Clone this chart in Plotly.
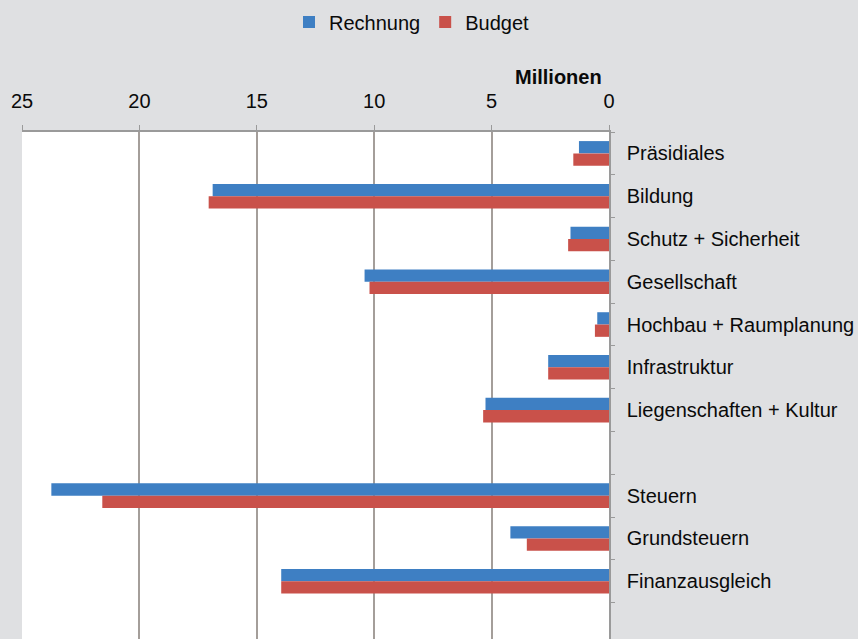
import plotly.graph_objects as go

categories = ["Präsidiales", "Bildung", "Schutz + Sicherheit", "Gesellschaft",
              "Hochbau + Raumplanung", "Infrastruktur", "Liegenschaften + Kultur",
              " ", "Steuern", "Grundsteuern", "Finanzausgleich", "  "]
rechnung = [1.28, 16.88, 1.64, 10.41, 0.50, 2.59, 5.26, None, 23.75, 4.20, 13.96, None]
budget = [1.52, 17.05, 1.74, 10.20, 0.60, 2.59, 5.36, None, 21.58, 3.50, 13.96, None]
x_ticks = [0, 5, 10, 15, 20, 25]

FONT = "Liberation Sans, Arial, sans-serif"
BLUE = "#3e7fc3"
RED = "#c9514a"

fig = go.Figure()
fig.add_trace(go.Bar(y=categories, x=rechnung, name="Rechnung", orientation="h",
                     marker=dict(color=BLUE, line=dict(width=0))))
fig.add_trace(go.Bar(y=categories, x=budget, name="Budget", orientation="h",
                     marker=dict(color=RED, line=dict(width=0))))

fig.update_layout(
    width=858, height=639,
    margin=dict(l=22, r=249, t=132, b=0, pad=0),
    paper_bgcolor="#dfe0e2",
    plot_bgcolor="#ffffff",
    barmode="group",
    bargap=0.425,
    bargroupgap=0,
    font=dict(family=FONT, size=20, color="#0a0a0a"),
    legend=dict(orientation="h", xref="container", yref="container",
                x=412/858, xanchor="center", y=1-22/639, yanchor="middle",
                font=dict(size=20), itemwidth=30, bgcolor="rgba(0,0,0,0)"),
    xaxis=dict(side="top", range=[25, 0], tickvals=x_ticks,
               showgrid=True, gridcolor="#a49e9a", gridwidth=1.5,
               zeroline=False, showline=True, linecolor="#9a9a9a", linewidth=1.5,
               ticks="outside", ticklen=5, tickcolor="#9a9a9a",
               ticklabelstandoff=9, tickfont=dict(size=20)),
    yaxis=dict(side="right", type="category", categoryorder="array",
               categoryarray=categories, range=[11.35, -0.5],
               tickson="boundaries", ticks="outside", ticklen=4, tickcolor="#9a9a9a",
               showline=True, linecolor="#9a9a9a", linewidth=1.5,
               showgrid=False, ticklabelstandoff=12, tickfont=dict(size=20)),
    annotations=[dict(text="<b>Millionen</b>", xref="paper", yref="paper",
                      x=1, xanchor="right", xshift=-5, y=(639-77)/507, yanchor="middle",
                      showarrow=False, font=dict(size=20, color="#0a0a0a"))],
)

fig.write_html("out.html")
